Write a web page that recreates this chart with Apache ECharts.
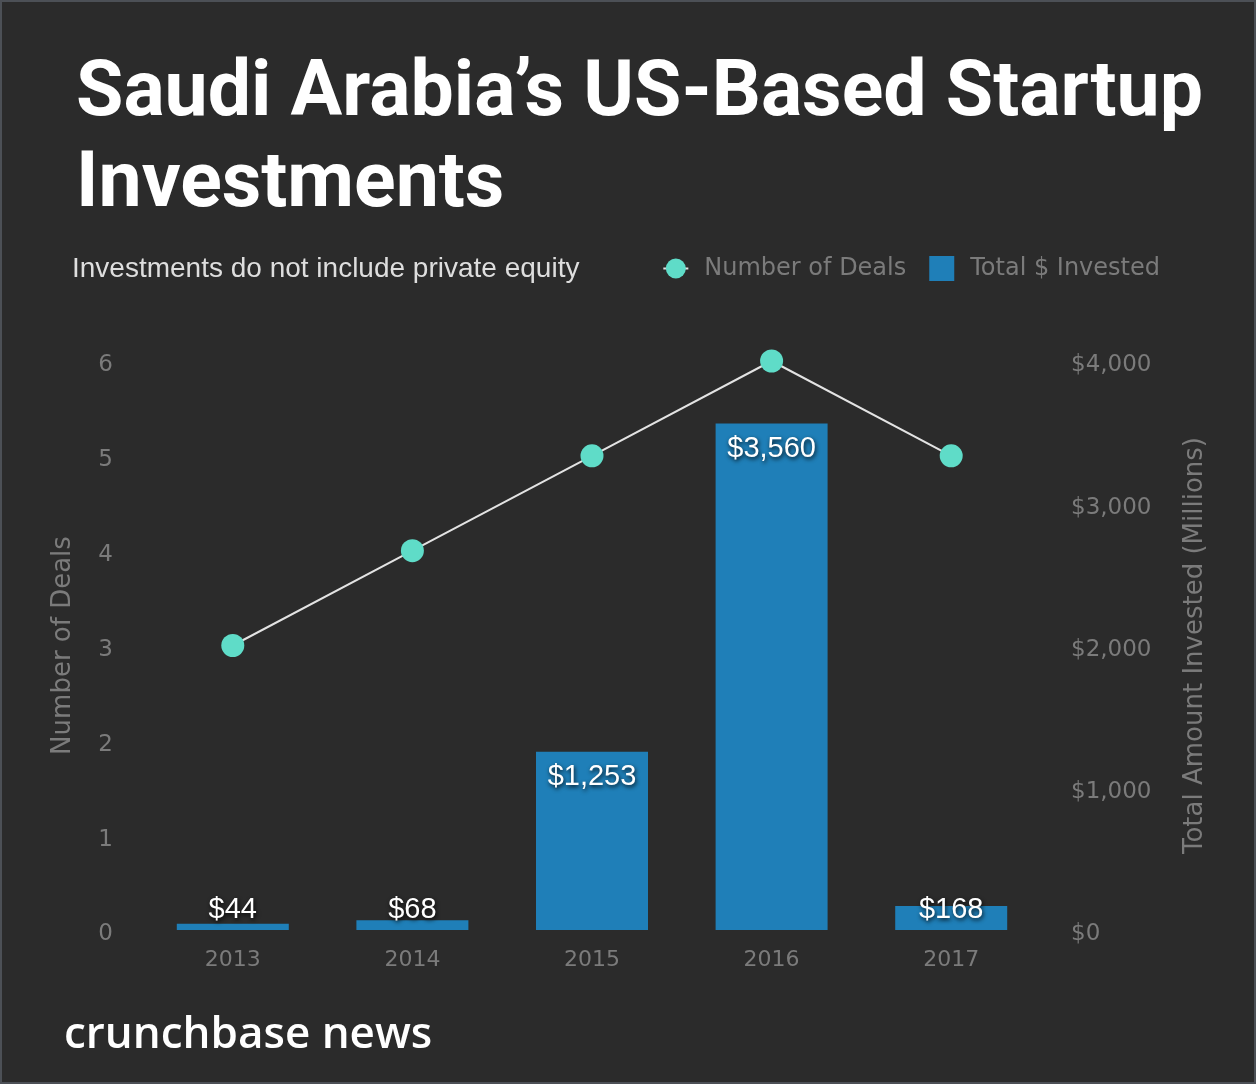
<!DOCTYPE html>
<html><head><meta charset="utf-8">
<script src="https://cdn.jsdelivr.net/npm/echarts@6/dist/echarts.min.js"></script>
<style>html,body{margin:0;padding:0;background:#2b2b2b;}#c{width:1256px;height:1084px;}</style>
</head><body><div id="c"></div>
<script>
const years = ['2013','2014','2015','2016','2017'];
const deals = [3, 4, 5, 6, 5];
const invested = [44, 68, 1253, 3560, 168];
const dealTicks = {min:0, max:6, interval:1};
const moneyTicks = {min:0, max:4000, interval:1000};

const axisGray = '#7b7b7b';
const axisFont = 'DejaVu Sans, sans-serif';
const fmtMoney = v => '$' + v.toLocaleString('en-US');

const chart = echarts.init(document.getElementById('c'), null, {renderer:'canvas'});
chart.setOption({
  backgroundColor:'#2b2b2b',
  animation:false,
  title:[{
    text:'Saudi Arabia’s US-Based Startup\nInvestments',
    left:76, top:50, padding:0,
    textStyle:{color:'#ffffff', fontFamily:'Roboto', fontWeight:700, fontSize:77, lineHeight:91}
  },{
    text:'Investments do not include private equity',
    left:72, top:255, padding:0,
    textStyle:{color:'#dedede', fontFamily:'Liberation Sans, Arial', fontWeight:400, fontSize:28}
  }],
  legend:{
    right:96, top:256, padding:0,
    itemWidth:25, itemHeight:25, itemGap:23,
    textStyle:{color:axisGray, fontFamily:axisFont, fontSize:24, padding:[0,0,0,11]},
    data:[{name:'Number of Deals'},{name:'Total $ Invested', icon:'rect'}]
  },
  grid:{left:143, right:215, top:361, bottom:154},
  xAxis:{
    type:'category', data:years,
    axisLine:{show:false}, axisTick:{show:false},
    axisLabel:{color:axisGray, fontFamily:axisFont, fontSize:22, margin:19}
  },
  yAxis:[{
    type:'value', min:dealTicks.min, max:dealTicks.max, interval:dealTicks.interval,
    name:'Number of Deals', nameLocation:'middle', nameGap:67, nameRotate:90,
    nameTextStyle:{color:axisGray, fontFamily:axisFont, fontSize:26},
    axisLine:{show:false}, axisTick:{show:false}, splitLine:{show:false},
    axisLabel:{color:axisGray, fontFamily:axisFont, fontSize:23, margin:30, verticalAlign:'top', lineHeight:9}
  },{
    type:'value', min:moneyTicks.min, max:moneyTicks.max, interval:moneyTicks.interval,
    position:'right',
    name:'Total Amount Invested (Millions)', nameLocation:'middle', nameGap:141, nameRotate:90,
    nameTextStyle:{color:axisGray, fontFamily:axisFont, fontSize:26},
    axisLine:{show:false}, axisTick:{show:false}, splitLine:{show:false},
    axisLabel:{color:axisGray, fontFamily:axisFont, fontSize:23, margin:30, verticalAlign:'top', lineHeight:9, formatter:fmtMoney}
  }],
  series:[{
    name:'Total $ Invested', type:'bar', yAxisIndex:1, barWidth:112,
    itemStyle:{color:'#1f7fb8'},
    data: invested.map(v => ({
      value:v,
      label:{
        show:true,
        position: v > 500 ? 'insideTop' : 'insideBottom',
        distance: v > 500 ? 11 : 6,
        formatter: p => fmtMoney(p.value),
        color:'#ffffff', fontFamily:'Liberation Sans, Arial', fontSize:29,
        textShadowColor:'rgba(0,0,0,0.85)', textShadowBlur:4, textShadowOffsetX:1, textShadowOffsetY:2
      }
    })),
    z:2
  },{
    name:'Number of Deals', type:'line', yAxisIndex:0, data:deals,
    symbol:'circle', symbolSize:23,
    lineStyle:{color:'#e3e3e3', width:2},
    itemStyle:{color:'#5fdcc8'},
    z:3
  }],
  graphic:[{
    type:'rect', shape:{x:1, y:1, width:1254, height:1082},
    style:{fill:'none', stroke:'#4c5056', lineWidth:2}, silent:true
  },{
    type:'text', left:64, top:1013,
    style:{text:'crunchbase news', fill:'#ffffff', fontFamily:'Open Sans', fontWeight:600, fontSize:44}
  }]
});
</script></body></html>
